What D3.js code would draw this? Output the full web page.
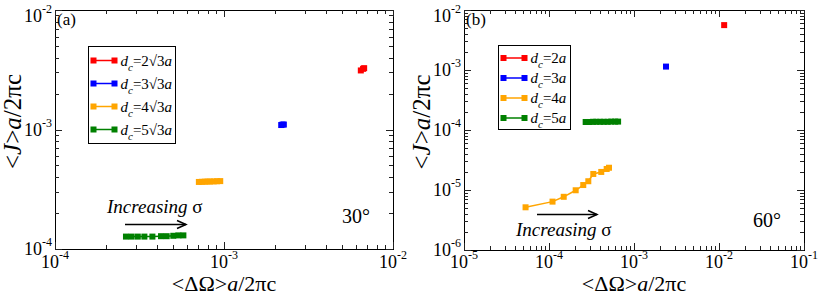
<!DOCTYPE html>
<html><head><meta charset="utf-8">
<script src="https://cdn.jsdelivr.net/npm/d3@7"></script>
<style>body{margin:0;background:#fff} svg{display:block} svg text{font-family:"Liberation Serif","DejaVu Serif",serif !important;fill:#000}</style>
</head><body><svg id="c" width="822" height="296" font-family="Liberation Serif"></svg>
<script>
// ---------- data ----------
const seriesColors = ["#ff0000", "#0000ff", "#ffa500", "#008000"];
const legendLabelsA = ["2\u221A3", "3\u221A3", "4\u221A3", "5\u221A3"];
const legendLabelsB = ["2", "3", "4", "5"];
const xTickExpA = [-4, -3, -2];
const yTickExpA = [-4, -3, -2];
const xTickExpB = [-5, -4, -3, -2, -1];
const yTickExpB = [-6, -5, -4, -3, -2];

// panel (a), 30 degrees
const aRedX = [6.45e-3, 6.65e-3, 6.75e-3];
const aRedY = [3.12e-3, 3.22e-3, 3.26e-3];
const aBlueX = [2.18e-3, 2.22e-3, 2.26e-3];
const aBlueY = [1.09e-3, 1.10e-3, 1.10e-3];
const aOrangeX = [7.1e-4, 7.4e-4, 7.7e-4, 8.0e-4, 8.3e-4, 8.7e-4, 9.1e-4, 9.5e-4];
const aOrangeY = [3.64e-4, 3.65e-4, 3.66e-4, 3.67e-4, 3.67e-4, 3.68e-4, 3.69e-4, 3.70e-4];
const aGreenX = [2.63e-4, 2.84e-4, 3.09e-4, 3.38e-4, 3.77e-4, 4.24e-4, 4.58e-4, 5.01e-4, 5.37e-4, 5.75e-4];
const aGreenY = [1.27e-4, 1.27e-4, 1.27e-4, 1.27e-4, 1.27e-4, 1.28e-4, 1.28e-4, 1.29e-4, 1.30e-4, 1.30e-4];

// panel (b), 60 degrees
const bRedX = [1.15e-2];
const bRedY = [5.6e-3];
const bBlueX = [2.38e-3];
const bBlueY = [1.14e-3];
const bOrangeX = [5.3e-5, 1.1e-4, 1.49e-4, 2.06e-4, 2.53e-4, 2.9e-4, 3.32e-4, 4.12e-4, 4.77e-4, 5.08e-4];
const bOrangeY = [5.15e-6, 6.4e-6, 7.7e-6, 9.9e-6, 1.21e-5, 1.4e-5, 1.85e-5, 2.0e-5, 2.24e-5, 2.35e-5];
const bGreenX = [2.7e-4, 3.0e-4, 3.3e-4, 3.6e-4, 4.0e-4, 4.4e-4, 4.9e-4, 5.4e-4, 6.0e-4, 6.5e-4];
const bGreenY = [1.36e-4, 1.36e-4, 1.37e-4, 1.37e-4, 1.37e-4, 1.37e-4, 1.37e-4, 1.38e-4, 1.38e-4, 1.38e-4];

// ---------- drawing ----------
const svg = d3.select("#c");
const FONT = "'Liberation Serif', 'DejaVu Serif', serif";
const MS = 6; // marker size

function zip(xs, ys) { return xs.map((x, i) => [x, ys[i]]); }

function txt(g) { return g.append("text").attr("font-family", FONT); }

function drawPanel(cfg) {
  const x = d3.scaleLog().domain(cfg.xDomain).range(cfg.xRange);
  const y = d3.scaleLog().domain(cfg.yDomain).range(cfg.yRange);
  const g = svg.append("g");
  const [L, R] = cfg.xRange, [B, T] = cfg.yRange;

  // frame
  g.append("rect").attr("x", L).attr("y", T).attr("width", R - L).attr("height", B - T)
    .attr("fill", "none").attr("stroke", "#000").attr("stroke-width", 1).attr("shape-rendering", "crispEdges");

  // ticks (inside, all four sides)
  const majX = cfg.xTickExp.map(e => Math.pow(10, e));
  const majY = cfg.yTickExp.map(e => Math.pow(10, e));
  const minX = [], minY = [];
  cfg.xTickExp.slice(0, -1).forEach(e => { for (let k = 2; k <= 9; k++) minX.push(k * Math.pow(10, e)); });
  cfg.yTickExp.slice(0, -1).forEach(e => { for (let k = 2; k <= 9; k++) minY.push(k * Math.pow(10, e)); });
  const tk = g.append("g").attr("stroke", "#222").attr("stroke-width", 1).attr("shape-rendering", "crispEdges");
  const addX = (vals, len) => vals.forEach(v => {
    const px = Math.round(x(v)) + 0.5;
    tk.append("line").attr("x1", px).attr("x2", px).attr("y1", B).attr("y2", B - len);
    tk.append("line").attr("x1", px).attr("x2", px).attr("y1", T).attr("y2", T + len);
  });
  const addY = (vals, len) => vals.forEach(v => {
    const py = Math.round(y(v)) + 0.5;
    tk.append("line").attr("y1", py).attr("y2", py).attr("x1", L).attr("x2", L + len);
    tk.append("line").attr("y1", py).attr("y2", py).attr("x1", R).attr("x2", R - len);
  });
  addX(majX, 7); addX(minX, 4); addY(majY, 7); addY(minY, 4);

  // tick labels
  cfg.xTickExp.forEach(e => {
    const t = txt(g).attr("x", x(Math.pow(10, e))).attr("y", 268)
      .attr("text-anchor", "middle").attr("font-size", 18);
    t.append("tspan").text("10");
    t.append("tspan").attr("font-size", 12).attr("dy", -9).text(String(e));
  });
  cfg.yTickExp.forEach(e => {
    const t = txt(g).attr("x", L - 3).attr("y", Math.max(22, y(Math.pow(10, e)) + 6))
      .attr("text-anchor", "end").attr("font-size", 18);
    t.append("tspan").text("10");
    t.append("tspan").attr("font-size", 12).attr("dy", -9).text(String(e));
  });

  // axis titles
  const xt = txt(g).attr("x", (L + R) / 2).attr("y", 291).attr("text-anchor", "middle").attr("font-size", 22);
  xt.append("tspan").text("<\u0394\u03A9>");
  xt.append("tspan").attr("font-style", "italic").text("a");
  xt.append("tspan").text("/2\u03C0c");
  const yt = txt(g).attr("transform", `translate(${cfg.yTitleX},${(T + B) / 2 - 8}) rotate(-90)`)
    .attr("text-anchor", "middle").attr("font-size", 25);
  yt.append("tspan").text("<");
  yt.append("tspan").attr("font-style", "italic").text("J");
  yt.append("tspan").text(">");
  yt.append("tspan").attr("font-style", "italic").text("a");
  yt.append("tspan").text("/2\u03C0c");

  // data
  const line = d3.line().x(d => x(d[0])).y(d => y(d[1]));
  cfg.series.forEach((s, i) => {
    const pts = zip(s[0], s[1]);
    g.append("path").attr("d", line(pts)).attr("fill", "none")
      .attr("stroke", seriesColors[i]).attr("stroke-width", 1.5);
    g.selectAll(null).data(pts).enter().append("rect")
      .attr("x", d => x(d[0]) - MS / 2).attr("y", d => y(d[1]) - MS / 2)
      .attr("width", MS).attr("height", MS).attr("fill", seriesColors[i]);
  });

  // panel letter
  txt(g).attr("x", L + 2).attr("y", T + 15).attr("font-size", 17).text(cfg.letter);

  // angle label
  txt(g).attr("x", cfg.angle[0]).attr("y", cfg.angle[1]).attr("font-size", 20).text(cfg.angle[2]);

  // Increasing sigma
  const it = txt(g).attr("x", cfg.incr[0]).attr("y", cfg.incr[1]).attr("font-size", 19);
  it.append("tspan").attr("font-style", "italic").text("Increasing ");
  it.append("tspan").text("\u03C3");
  const [ax1, ax2, ay] = cfg.arrow;
  g.append("line").attr("x1", ax1).attr("x2", ax2).attr("y1", ay).attr("y2", ay).attr("stroke", "#000").attr("stroke-width", 1.5);
  g.append("path").attr("d", `M${ax2 - 9},${ay - 4} L${ax2},${ay} L${ax2 - 9},${ay + 4}`)
    .attr("fill", "none").attr("stroke", "#000").attr("stroke-width", 1.5);

  // legend
  const lg = cfg.legend;
  g.append("rect").attr("x", lg.x).attr("y", lg.y).attr("width", lg.w).attr("height", lg.h)
    .attr("fill", "#fff").attr("stroke", "#000").attr("stroke-width", 1).attr("shape-rendering", "crispEdges");
  cfg.legendLabels.forEach((lab, i) => {
    const yy = lg.row0 + i * lg.dy;
    g.append("line").attr("x1", lg.x + 5).attr("x2", lg.x + 26).attr("y1", yy).attr("y2", yy)
      .attr("stroke", seriesColors[i]).attr("stroke-width", 1.5);
    [lg.x + 5, lg.x + 26].forEach(px => g.append("rect").attr("x", px - MS / 2).attr("y", yy - MS / 2)
      .attr("width", MS).attr("height", MS).attr("fill", seriesColors[i]));
    const t = txt(g).attr("x", lg.x + lg.tx).attr("y", yy + 5).attr("font-size", 15);
    t.append("tspan").attr("font-style", "italic").text("d");
    t.append("tspan").attr("font-style", "italic").attr("font-size", 11).attr("dy", 5).text("c");
    t.append("tspan").attr("dy", -5).text("=" + lab);
    t.append("tspan").attr("font-style", "italic").text("a");
  });
}

drawPanel({
  xDomain: [1e-4, 1e-2], xRange: [55, 393], yDomain: [1e-4, 1e-2], yRange: [249, 10],
  xTickExp: xTickExpA, yTickExp: yTickExpA, yTitleX: 21,
  series: [[aRedX, aRedY], [aBlueX, aBlueY], [aOrangeX, aOrangeY], [aGreenX, aGreenY]],
  letter: "(a)", angle: [342, 223, "30\u00B0"], incr: [107, 213], arrow: [125, 186, 224.5],
  legend: { x: 88.5, y: 46.5, w: 87, h: 97, row0: 60.5, dy: 23, tx: 32 },
  legendLabels: legendLabelsA
});
drawPanel({
  xDomain: [1e-5, 1e-1], xRange: [464, 804], yDomain: [1e-6, 1e-2], yRange: [250, 10],
  xTickExp: xTickExpB, yTickExp: yTickExpB, yTitleX: 430,
  series: [[bRedX, bRedY], [bBlueX, bBlueY], [bOrangeX, bOrangeY], [bGreenX, bGreenY]],
  letter: "(b)", angle: [753, 227, "60\u00B0"], incr: [516, 236], arrow: [537, 597, 214.5],
  legend: { x: 498.5, y: 45.5, w: 72, h: 84, row0: 58, dy: 20, tx: 32 },
  legendLabels: legendLabelsB
});
</script></body></html>
